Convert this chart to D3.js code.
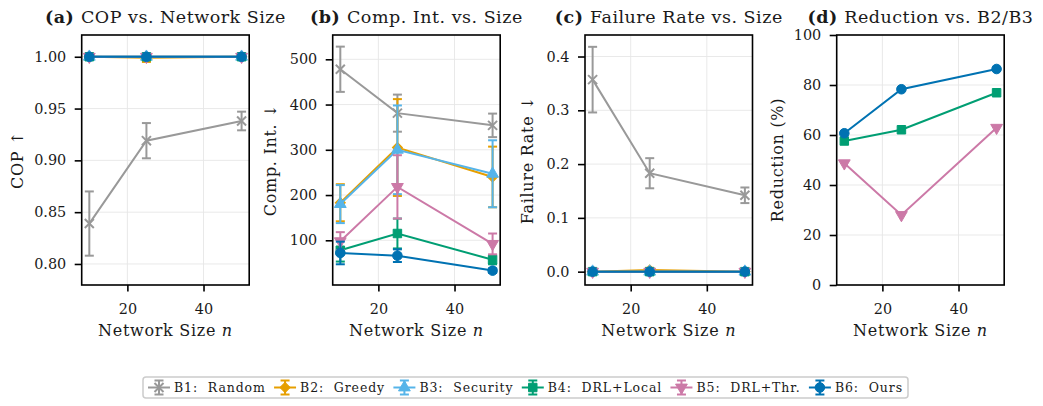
<!DOCTYPE html>
<html>
<head>
<meta charset="utf-8">
<script src="https://cdn.jsdelivr.net/npm/d3@7"></script>
<style>
  body { margin: 0; background: #fff; }
  text { font-family: "DejaVu Serif", "Liberation Serif", serif; fill: #1a1a1a; }
</style>
</head>
<body>
<svg id="chart" width="1043" height="406"></svg>
<script>
// network sizes on the x axis
const sizes = [10, 25, 50];
const seriesNames = ["B1: Random", "B2: Greedy", "B3: Security", "B4: DRL+Local", "B5: DRL+Thr.", "B6: Ours"];
const seriesColors = ["#999999", "#E69F00", "#56B4E9", "#009E73", "#CC79A7", "#0072B2"];
const seriesMarkers = ["x", "diamond", "triUp", "square", "triDown", "circle"];

// (a) COP, mean and std
const copMean = [[0.839, 0.919, 0.938], [1.000, 0.999, 1.000], [1.000, 1.000, 1.000],
                 [1.000, 1.000, 1.000], [1.000, 1.000, 1.000], [1.000, 1.000, 1.000]];
const copErr = [[0.031, 0.017, 0.009], [0.002, 0.004, 0.003], [0, 0, 0],
                [0, 0, 0], [0.001, 0.001, 0.001], [0, 0, 0]];

// (b) computational intensity
const compMean = [[478, 381, 354], [183, 305, 240], [180, 300, 247],
                  [78, 115, 57], [98, 218, 92], [72, 66, 33]];
const compErr = [[50, 41, 26], [41, 107, 67], [42, 98, 74],
                 [25, 33, 10], [20, 70, 23], [25, 14, 5]];

// (c) failure rate
const failMean = [[0.357, 0.183, 0.142], [0, 0.003, 0], [0, 0, 0],
                  [0, 0, 0], [0, 0, 0], [0, 0, 0]];
const failErr = [[0.061, 0.028, 0.0145], [0.002, 0.004, 0.002], [0, 0, 0],
                 [0, 0, 0], [0, 0, 0], [0, 0, 0]];

// (d) reduction vs B2/B3, only B4..B6
const reductionSeries = [3, 4, 5];
const reduction = [[57.6, 62.1, 76.9], [48.7, 28.0, 62.9], [60.7, 78.3, 86.4]];

const xTicks = [20, 40];

const svg = d3.select("#chart");
const plotTop = 35, plotBottom = 285, panelW = 167.5;

const panels = [
  {left: 81.7, title: "COP vs. Network Size", tag: "(a)", ylabel: "COP \u2191", yLabelX: 22.5,
   domain: [0.7797, 1.021], ticks: [0.80, 0.85, 0.90, 0.95, 1.00], fmt: d3.format(".2f"),
   mean: copMean, err: copErr},
  {left: 332.7, title: "Comp. Int. vs. Size", tag: "(b)", ylabel: "Comp. Int. \u2193", yLabelX: 275.5,
   domain: [1.2, 553.7], ticks: [100, 200, 300, 400, 500], fmt: d3.format("d"),
   mean: compMean, err: compErr},
  {left: 585, title: "Failure Rate vs. Size", tag: "(c)", ylabel: "Failure Rate \u2193", yLabelX: 532.5,
   domain: [-0.0248, 0.440], ticks: [0, 0.1, 0.2, 0.3, 0.4], fmt: d3.format(".1f"),
   mean: failMean, err: failErr},
  {left: 836.7, title: "Reduction vs. B2/B3", tag: "(d)", ylabel: "Reduction (%)", yLabelX: 782.5,
   domain: [0, 100], ticks: [0, 20, 40, 60, 80, 100], fmt: d3.format("d"),
   mean: reduction, err: null}
];

function markerPath(kind) {
  switch (kind) {
    case "circle": return d3.symbol(d3.symbolCircle, 72)();
    case "square": return d3.symbol(d3.symbolSquare, 72)();
    case "diamond": return d3.symbol(d3.symbolSquare, 50)();
    case "triUp": return d3.symbol(d3.symbolTriangle, 60)();
    case "triDown": return d3.symbol(d3.symbolTriangle, 60)();
    case "x": return d3.symbol(d3.symbolTimes, 55)();
  }
}
function markerRot(kind) {
  if (kind === "diamond") return 45;
  if (kind === "triDown") return 180;
  return 0;
}

function drawMarker(g, kind, color, cx, cy) {
  const p = g.append("path")
    .attr("d", markerPath(kind))
    .attr("transform", "translate(" + cx + "," + cy + ") rotate(" + markerRot(kind) + ")");
  if (kind === "x") {
    p.attr("fill", "none").attr("stroke", color).attr("stroke-width", 2);
  } else {
    p.attr("fill", color).attr("stroke", color).attr("stroke-width", 1);
  }
}

panels.forEach(function (pc) {
  const x = d3.scaleLinear().domain([8, 52]).range([pc.left, pc.left + panelW]);
  const y = d3.scaleLinear().domain(pc.domain).range([plotBottom, plotTop]);
  const g = svg.append("g");

  // grid
  g.selectAll(".gx").data(xTicks).enter().append("line")
    .attr("x1", d => x(d)).attr("x2", d => x(d))
    .attr("y1", plotTop).attr("y2", plotBottom)
    .attr("stroke", "#e6e6e6").attr("stroke-width", 0.9);
  g.selectAll(".gy").data(pc.ticks).enter().append("line")
    .attr("x1", pc.left).attr("x2", pc.left + panelW)
    .attr("y1", d => y(d)).attr("y2", d => y(d))
    .attr("stroke", "#e6e6e6").attr("stroke-width", 0.9);

  const line = d3.line().x((d, i) => x(sizes[i])).y(d => y(d));
  const plot = g.append("g");

  pc.mean.forEach(function (vals, k) {
    const si = pc.err ? k : reductionSeries[k];
    const color = seriesColors[si];
    plot.append("path").datum(vals)
      .attr("d", line)
      .attr("fill", "none").attr("stroke", color).attr("stroke-width", 2);
    if (pc.err) {
      vals.forEach(function (v, i) {
        const e = pc.err[k][i];
        if (e <= 0) return;
        const cx = x(sizes[i]);
        plot.append("line").attr("x1", cx).attr("x2", cx)
          .attr("y1", y(v - e)).attr("y2", y(v + e))
          .attr("stroke", color).attr("stroke-width", 2);
        [v - e, v + e].forEach(function (c) {
          plot.append("line").attr("x1", cx - 4.5).attr("x2", cx + 4.5)
            .attr("y1", y(c)).attr("y2", y(c))
            .attr("stroke", color).attr("stroke-width", 2);
        });
      });
    }
    vals.forEach(function (v, i) {
      drawMarker(plot, seriesMarkers[si], color, x(sizes[i]), y(v));
    });
  });

  // frame
  g.append("rect")
    .attr("x", pc.left).attr("y", plotTop)
    .attr("width", panelW).attr("height", plotBottom - plotTop)
    .attr("fill", "none").attr("stroke", "#000").attr("stroke-width", 1.6);

  const ax = g.append("g").attr("transform", "translate(0," + plotBottom + ")")
    .call(d3.axisBottom(x).tickValues(xTicks).tickSize(6.5).tickPadding(12).tickFormat(d3.format("d")));
  const ay = g.append("g").attr("transform", "translate(" + pc.left + ",0)")
    .call(d3.axisLeft(y).tickValues(pc.ticks).tickSize(7).tickPadding(8.5).tickFormat(pc.fmt));
  [ax, ay].forEach(function (a) {
    a.select(".domain").remove();
    a.selectAll(".tick line").attr("stroke", "#000").attr("stroke-width", 1.6);
    a.selectAll(".tick text").attr("font-size", 14.4)
      .attr("font-family", "DejaVu Serif").attr("fill", "#1a1a1a");
  });

  // x label
  const xl = g.append("text")
    .attr("x", pc.left + panelW / 2).attr("y", 336)
    .attr("text-anchor", "middle").attr("font-size", 16).attr("letter-spacing", 0.7);
  xl.append("tspan").text("Network Size ");
  xl.append("tspan").attr("font-style", "italic").text("n");

  // y label
  g.append("text")
    .attr("transform", "translate(" + pc.yLabelX + "," + ((plotTop + plotBottom) / 2) + ") rotate(-90)")
    .attr("text-anchor", "middle").attr("font-size", 16).attr("letter-spacing", 0.7)
    .text(pc.ylabel);

  // title
  const t = g.append("text")
    .attr("x", pc.left + panelW / 2).attr("y", 22.5)
    .attr("text-anchor", "middle").attr("font-size", 17.5).attr("letter-spacing", 0.5);
  t.append("tspan").attr("font-weight", "bold").text(pc.tag + " ");
  t.append("tspan").text(pc.title);
});

// legend
const leg = svg.append("g");
const legBox = {x: 143, y: 377, w: 765, h: 21};
leg.append("rect")
  .attr("x", legBox.x).attr("y", legBox.y).attr("width", legBox.w).attr("height", legBox.h)
  .attr("rx", 3).attr("fill", "#fff").attr("stroke", "#cccccc").attr("stroke-width", 1.5);

const items = leg.selectAll(".item").data(seriesNames).enter().append("g");
items.append("text")
  .attr("font-size", 12.5).attr("y", legBox.y + 15).attr("letter-spacing", 0.9)
  .text(d => d.replace(": ", ":\u00A0 "));
const widths = [];
items.each(function () { widths.push(d3.select(this).select("text").node().getBBox().width); });
const handle = 22, pad = 4;
const totalText = d3.sum(widths) + seriesNames.length * (handle + pad);
const gap = (legBox.w - 10 - totalText) / (seriesNames.length - 1);
let cursor = legBox.x + 5;
items.each(function (d, i) {
  const it = d3.select(this);
  const color = seriesColors[i];
  const cy = legBox.y + legBox.h / 2;
  it.append("line").attr("x1", cursor).attr("x2", cursor + handle)
    .attr("y1", cy).attr("y2", cy).attr("stroke", color).attr("stroke-width", 2);
  const mx = cursor + handle / 2;
  it.append("line").attr("x1", mx).attr("x2", mx).attr("y1", cy - 7).attr("y2", cy + 7)
    .attr("stroke", color).attr("stroke-width", 2);
  [cy - 7, cy + 7].forEach(function (c) {
    it.append("line").attr("x1", mx - 4.5).attr("x2", mx + 4.5).attr("y1", c).attr("y2", c)
      .attr("stroke", color).attr("stroke-width", 2);
  });
  drawMarker(it, seriesMarkers[i], color, mx, cy);
  it.select("text").attr("x", cursor + handle + pad);
  cursor += handle + pad + widths[i] + gap;
});
</script>
</body>
</html>
